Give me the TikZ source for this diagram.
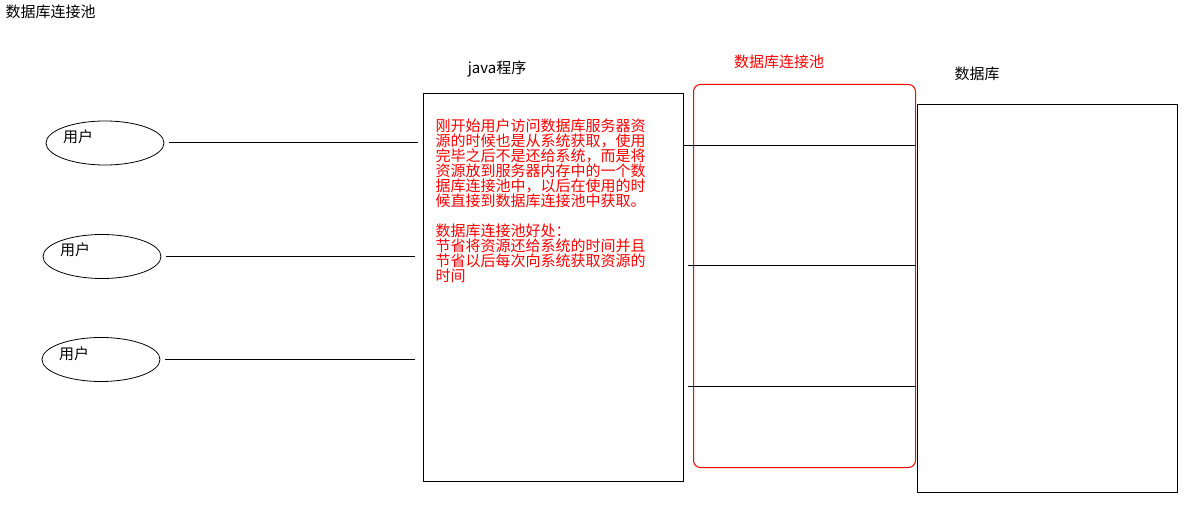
\documentclass[tikz,border=0pt]{standalone}
\usepackage{fontspec}
\setmainfont{Noto Sans CJK SC}
\usetikzlibrary{shapes.geometric}
\begin{document}
\begin{tikzpicture}[x=1pt,y=-1pt,line width=1pt]
\tikzset{
  user/.style={draw, ellipse, line width=0.8pt, minimum width=118pt, minimum height=44pt, inner sep=0pt},
  lbl/.style={font=\fontsize{15}{15}\selectfont, inner sep=0pt},
  bigbox/.style={draw, line width=1pt, inner sep=0pt, anchor=north west},
  poolbox/.style={draw=red, line width=1pt, rounded corners=7pt, inner sep=0pt, anchor=north west},
  link/.style={draw, line width=1pt}
}
\path[use as bounding box, fill=white] (0,0) rectangle (1187,505);
% title
\node[lbl, anchor=west] (title) at (5,12) {数据库连接池};
% users
\node[user] (u1) at (105,143) {};
\node[user] (u2) at (102,256.5) {};
\node[user] (u3) at (101,359.5) {};
\node[lbl] (t1) at (78,137) {用户};
\node[lbl] (t2) at (75,250) {用户};
\node[lbl] (t3) at (74,354) {用户};
% boxes
\node[bigbox, minimum width=260pt, minimum height=388pt] (java) at (423,93) {};
\node[poolbox, minimum width=222pt, minimum height=383pt] (pool) at (693,84) {};
\node[bigbox, minimum width=260pt, minimum height=388pt] (db) at (917,104) {};
% labels
\node[lbl] (javalbl) at (497,69) {java程序};
\node[lbl, text=red] (poollbl) at (779,62) {数据库连接池};
\node[lbl] (dblbl) at (977,74) {数据库};
% red text
\node[lbl, text=red, anchor=north west, align=left] (note) at (435,118) {刚开始用户访问数据库服务器资\\源的时候也是从系统获取，使用\\完毕之后不是还给系统，而是将\\资源放到服务器内存中的一个数\\据库连接池中，以后在使用的时\\候直接到数据库连接池中获取。\\[15pt]数据库连接池好处：\\节省将资源还给系统的时间并且\\节省以后每次向系统获取资源的\\时间};
% user connectors
\coordinate (j1) at (418,143);
\coordinate (j2) at (415,256.5);
\coordinate (j3) at (415,359.5);
\draw[link] ([xshift=5pt]u1.east) -- (j1);
\draw[link] ([xshift=5pt]u2.east) -- (j2);
\draw[link] ([xshift=5pt]u3.east) -- (j3);
% pool connectors
\coordinate (p1a) at (683,146);
\coordinate (p1b) at (915,146);
\coordinate (p2a) at (688,266);
\coordinate (p2b) at (916,266);
\coordinate (p3a) at (688,386);
\coordinate (p3b) at (916,386);
\draw[link] (p1a) -- (p1b);
\draw[link] (p2a) -- (p2b);
\draw[link] (p3a) -- (p3b);
\end{tikzpicture}
\end{document}
